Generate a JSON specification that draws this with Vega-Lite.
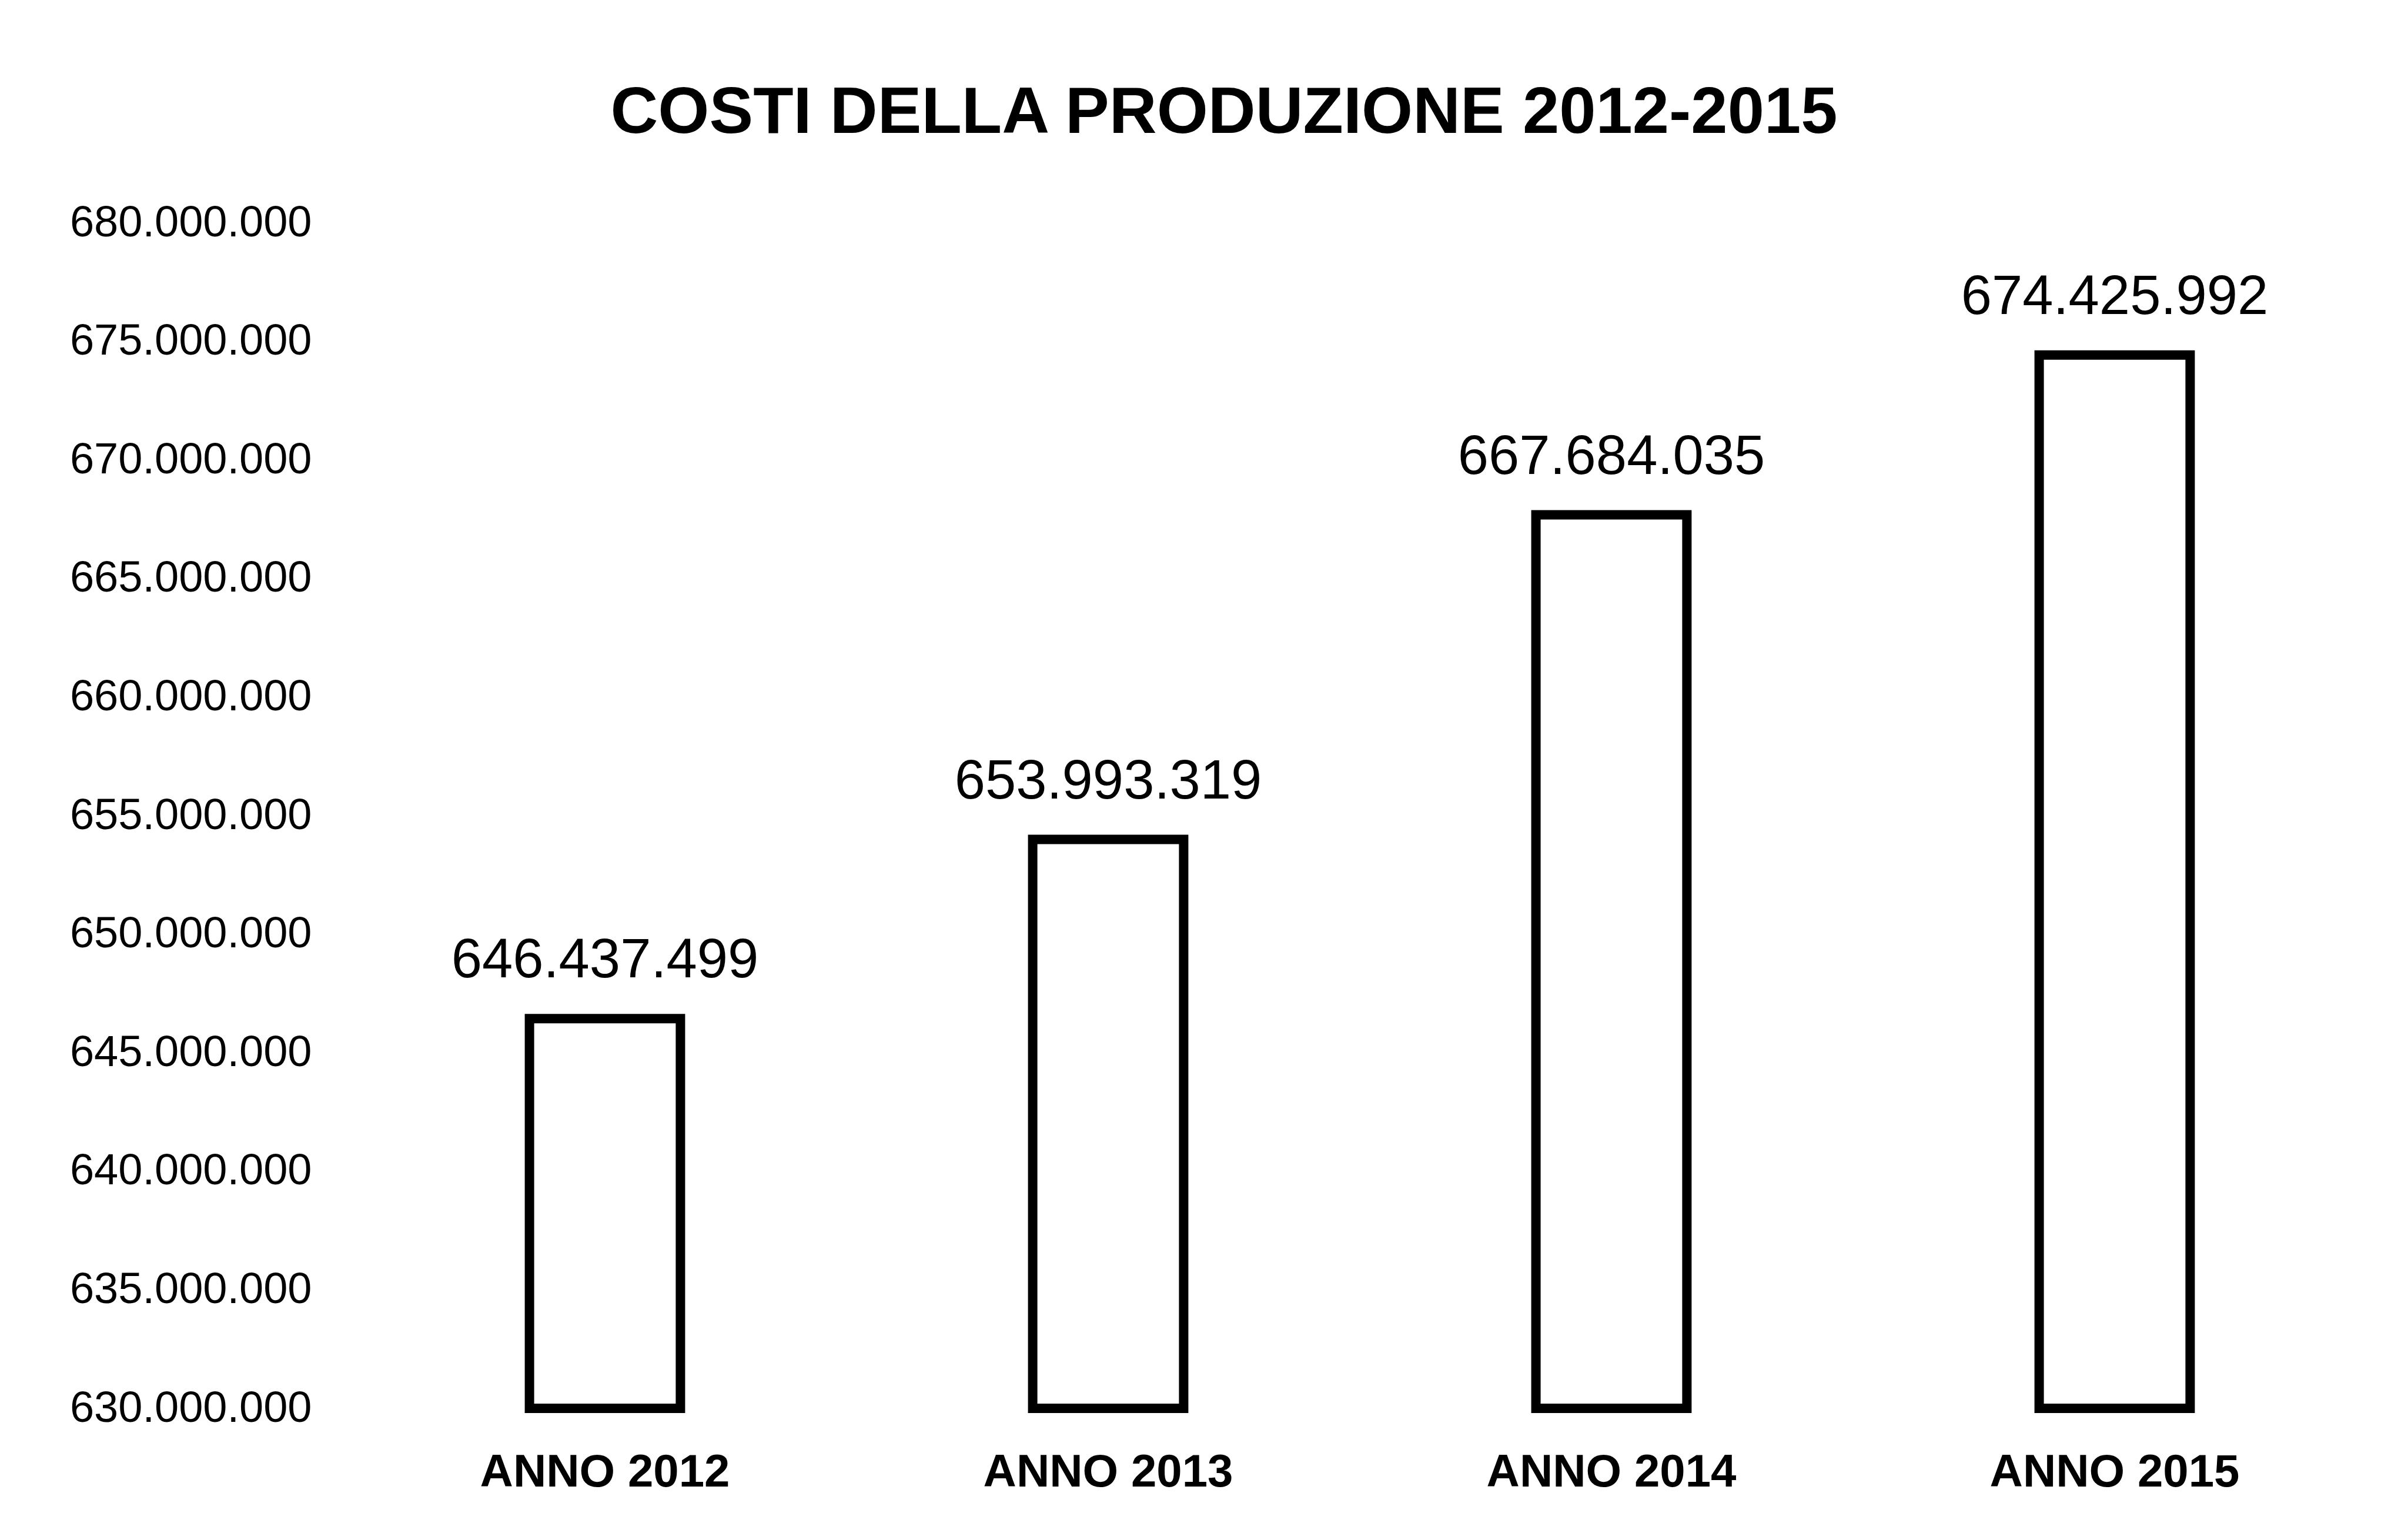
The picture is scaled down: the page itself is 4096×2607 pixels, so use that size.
{
  "$schema": "https://vega.github.io/schema/vega-lite/v6.json",
  "autosize": {"type": "none"},
  "width": 3424,
  "height": 2016,
  "padding": {"left": 601, "top": 379, "right": 71, "bottom": 212},
  "background": "white",
  "config": {"view": {"stroke": null}, "font": "Liberation Sans"},
  "title": {
    "text": "COSTI DELLA PRODUZIONE 2012-2015",
    "fontSize": 112,
    "fontWeight": "bold",
    "font": "Liberation Sans",
    "color": "#000000",
    "anchor": "middle",
    "dx": -231,
    "offset": 92
  },
  "data": {
    "values": [
      {"anno": "ANNO 2012", "costi": 646437499, "label": "646.437.499"},
      {"anno": "ANNO 2013", "costi": 653993319, "label": "653.993.319"},
      {"anno": "ANNO 2014", "costi": 667684035, "label": "667.684.035"},
      {"anno": "ANNO 2015", "costi": 674425992, "label": "674.425.992"}
    ]
  },
  "encoding": {
    "x": {
      "field": "anno",
      "type": "nominal",
      "sort": null,
      "scale": {"paddingInner": 0.7, "paddingOuter": 0.35},
      "axis": {
        "title": null,
        "labelAngle": 0,
        "domain": false,
        "ticks": false,
        "labelFontSize": 78,
        "labelFontWeight": "bold",
        "labelColor": "#000000",
        "labelPadding": 70,
        "labelLimit": 0
      }
    }
  },
  "layer": [
    {
      "mark": {"type": "bar", "fill": "#ffffff", "stroke": "#000000", "strokeWidth": 16},
      "encoding": {
        "y": {
          "field": "costi",
          "type": "quantitative",
          "scale": {"domain": [630000000, 680000000], "nice": false, "zero": false},
          "axis": {
            "title": null,
            "values": [630000000, 635000000, 640000000, 645000000, 650000000, 655000000, 660000000, 665000000, 670000000, 675000000, 680000000],
            "labelExpr": "replace(format(datum.value, ',.0f'), /,/g, '.')",
            "domain": false,
            "ticks": false,
            "grid": false,
            "labelFontSize": 74,
            "labelColor": "#000000",
            "labelPadding": 71,
            "labelLimit": 0
          }
        },
        "y2": {"datum": 630000000}
      }
    },
    {
      "mark": {"type": "text", "fontSize": 94, "color": "#000000", "baseline": "alphabetic", "dy": -70},
      "encoding": {
        "y": {"field": "costi", "type": "quantitative"},
        "text": {"field": "label"}
      }
    }
  ]
}
